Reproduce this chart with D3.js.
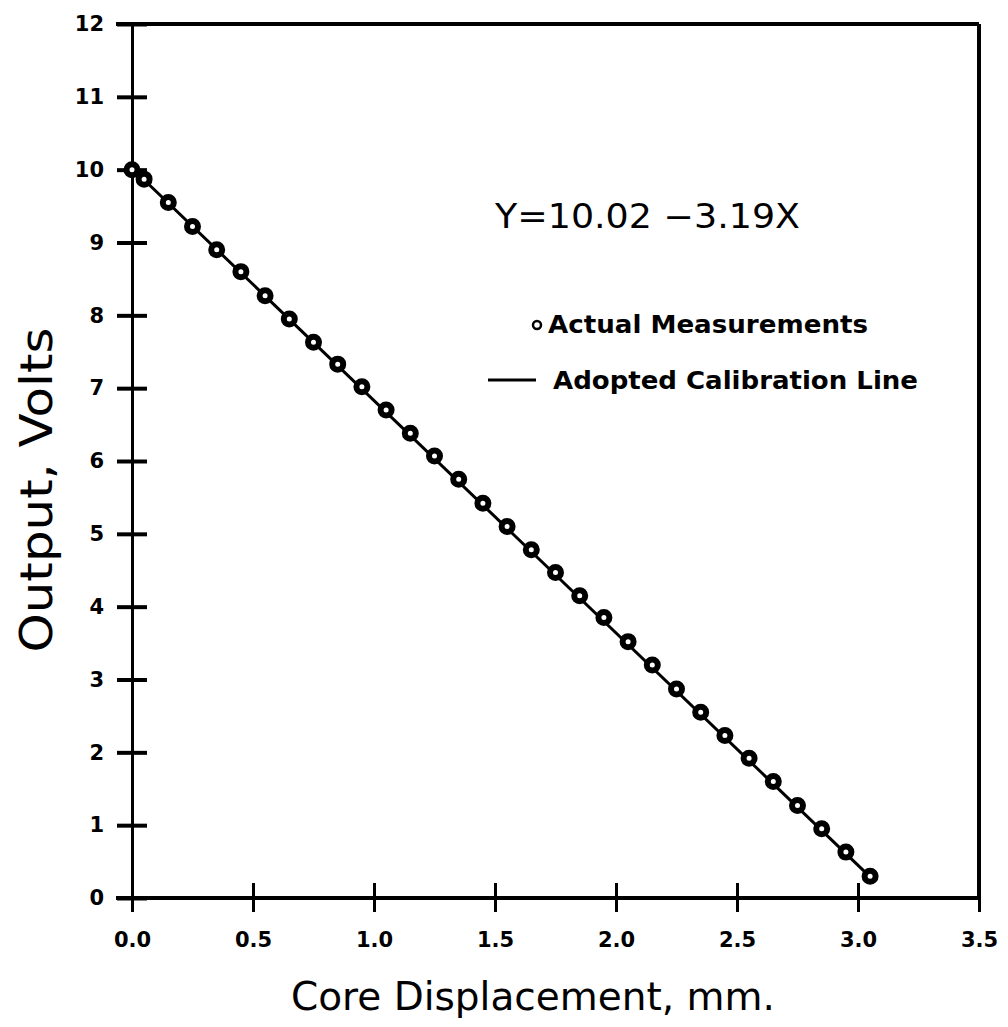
<!DOCTYPE html>
<html>
<head>
<meta charset="utf-8">
<script src="https://cdn.jsdelivr.net/npm/d3@7"></script>
<style>
  body { margin: 0; background: #fff; }
  svg text { fill: #000; }
</style>
</head>
<body>
<div id="chart"></div>
<script>
var displacement = [0, 0.05, 0.15, 0.25, 0.35, 0.45, 0.55, 0.65, 0.75, 0.85, 0.95,
  1.05, 1.15, 1.25, 1.35, 1.45, 1.55, 1.65, 1.75, 1.85, 1.95,
  2.05, 2.15, 2.25, 2.35, 2.45, 2.55, 2.65, 2.75, 2.85, 2.95, 3.05];
var output = [10.0, 9.87, 9.55, 9.22, 8.9, 8.6, 8.27, 7.95, 7.63, 7.33, 7.02,
  6.7, 6.38, 6.07, 5.75, 5.42, 5.1, 4.78, 4.47, 4.15, 3.85,
  3.52, 3.2, 2.87, 2.55, 2.23, 1.92, 1.6, 1.27, 0.95, 0.63, 0.3];
// adopted calibration line end points
var lineX = [0, 3.05];
var lineY = [10.02, 0.29];
var xTicks = [0, 0.5, 1.0, 1.5, 2.0, 2.5, 3.0, 3.5];
var yTicks = [0, 1, 2, 3, 4, 5, 6, 7, 8, 9, 10, 11, 12];

var width = 1008, height = 1027;
var margin = {left: 132, right: 29, top: 24, bottom: 129};
var plotW = width - margin.left - margin.right;
var plotH = height - margin.top - margin.bottom;

var svg = d3.select("#chart").append("svg")
  .attr("width", width)
  .attr("height", height);

var g = svg.append("g")
  .attr("transform", "translate(" + margin.left + "," + margin.top + ")");

var x = d3.scaleLinear().domain([0, 3.5]).range([0, plotW]);
var y = d3.scaleLinear().domain([0, 12]).range([plotH, 0]);

//frame: top and right lines
g.append("line").attr("x1", -16).attr("x2", plotW).attr("y1", 0).attr("y2", 0)
  .attr("stroke", "#000").attr("stroke-width", 4);
g.append("line").attr("x1", plotW).attr("x2", plotW).attr("y1", 0).attr("y2", plotH)
  .attr("stroke", "#000").attr("stroke-width", 4);

//ticks cross the axis, so use inner + outer
var xAxis = d3.axisBottom(x).tickValues(xTicks).tickSizeInner(-15).tickSizeOuter(0)
  .tickFormat(d3.format(".1f"));
var gx = g.append("g").attr("transform", "translate(0," + plotH + ")").call(xAxis);
gx.select(".domain").attr("stroke-width", 4).attr("d", "M-16,0H" + plotW);
gx.selectAll(".tick line").attr("stroke-width", 3).attr("y1", 14);
gx.selectAll(".tick text")
  .attr("y", 34)
  .style("font-family", "'DejaVu Sans'")
  .style("font-weight", "bold")
  .style("font-size", "21px");

var yAxis = d3.axisLeft(y).tickValues(yTicks).tickSizeInner(-15).tickSizeOuter(0);
var gy = g.append("g").call(yAxis);
gy.select(".domain").attr("stroke-width", 3);
gy.selectAll(".tick line").attr("stroke-width", 4).attr("x1", -15);
gy.selectAll(".tick text")
  .attr("x", -28)
  .style("font-family", "'DejaVu Sans'")
  .style("font-weight", "bold")
  .style("font-size", "21px");

//calibration line
var pts = lineX.map(function (d, i) { return [d, lineY[i]]; });
g.append("path")
  .datum(pts)
  .attr("fill", "none")
  .attr("stroke", "#000")
  .attr("stroke-width", 3)
  .attr("d", d3.line().x(function (d) { return x(d[0]); }).y(function (d) { return y(d[1]); }));

//measurement markers
g.selectAll("circle.pt")
  .data(displacement)
  .enter().append("circle")
  .attr("class", "pt")
  .attr("cx", function (d) { return x(d); })
  .attr("cy", function (d, i) { return y(output[i]); })
  .attr("r", 5.5)
  .attr("fill", "#fff")
  .attr("stroke", "#000")
  .attr("stroke-width", 6);

//equation
svg.append("text")
  .attr("x", 495).attr("y", 228)
  .style("font-family", "'DejaVu Sans'")
  .style("font-size", "33px")
  .attr("textLength", 305)
  .attr("lengthAdjust", "spacingAndGlyphs")
  .text("Y=10.02 \u22123.19X");

//legend
svg.append("circle").attr("cx", 537).attr("cy", 325).attr("r", 4)
  .attr("fill", "#fff").attr("stroke", "#000").attr("stroke-width", 2.5);
svg.append("text")
  .attr("x", 548).attr("y", 333)
  .style("font-family", "'DejaVu Sans'")
  .style("font-weight", "bold")
  .style("font-size", "24px")
  .attr("textLength", 320)
  .attr("lengthAdjust", "spacingAndGlyphs")
  .text("Actual Measurements");
svg.append("line").attr("x1", 488).attr("x2", 536).attr("y1", 380).attr("y2", 380)
  .attr("stroke", "#000").attr("stroke-width", 3);
svg.append("text")
  .attr("x", 553).attr("y", 389)
  .style("font-family", "'DejaVu Sans'")
  .style("font-weight", "bold")
  .style("font-size", "24px")
  .attr("textLength", 365)
  .attr("lengthAdjust", "spacingAndGlyphs")
  .text("Adopted Calibration Line");

//axis titles
svg.append("text")
  .attr("x", 533).attr("y", 1010)
  .attr("text-anchor", "middle")
  .style("font-family", "'DejaVu Sans'")
  .style("font-size", "39px")
  .text("Core Displacement, mm.");

svg.append("text")
  .attr("transform", "translate(52,490)rotate(-90)")
  .attr("text-anchor", "middle")
  .style("font-family", "'DejaVu Sans'")
  .style("font-size", "44px")
  .attr("textLength", 325)
  .attr("lengthAdjust", "spacingAndGlyphs")
  .text("Output, Volts");
</script>
</body>
</html>
